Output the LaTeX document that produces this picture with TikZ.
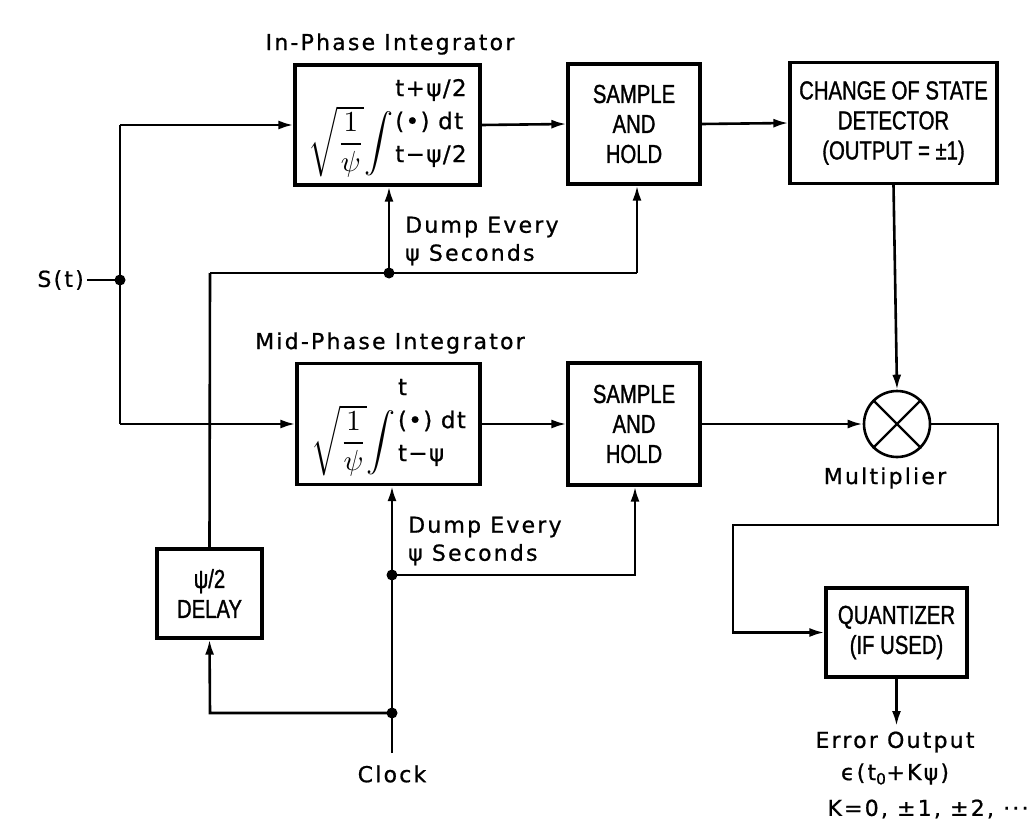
\documentclass[tikz,border=0pt]{standalone}
\usepackage{graphicx}
\usepackage{fontspec}
\newfontfamily\labf[LetterSpace=10,FakeBold=0.8]{DejaVu Sans}
\newfontfamily\formf[LetterSpace=6,FakeBold=0.8]{DejaVu Sans}
\newfontfamily\capf[FakeStretch=0.78,FakeBold=1.2]{Liberation Sans}
\usetikzlibrary{arrows.meta}
\tikzset{
  box/.style={draw, line width=3.2pt, inner sep=0pt, align=center},
  capt/.style={font=\capf\fontsize{26}{30}\selectfont},
  lab/.style={font=\labf\fontsize{22}{28}\selectfont, inner sep=0pt},
  wire/.style={line width=2.6pt},
  arr/.style={wire, -{Latex[length=15pt,width=9pt]}},
  dot/.style={fill=black}
}
\newcommand{\intform}[2]{\raisebox{-0.5\height}{\scalebox{2.9}{$\displaystyle\sqrt{\frac{1}{\psi}}\!\int$}}\hspace{2pt}{\formf\fontsize{23}{33}\selectfont\begin{tabular}{@{}l@{}}#1\\(•) dt\\#2\end{tabular}}}
\begin{document}
\begin{tikzpicture}[x=1pt,y=-1pt]
\useasboundingbox (0,0) rectangle (1036,840);
% blocks
\node[box,minimum width=185pt,minimum height=120pt] (ip) at (387.5,125) {\intform{t+ψ/2}{t−ψ/2}};
\node[box,capt,minimum width=132pt,minimum height=120pt] (sh1) at (634,124) {SAMPLE\\AND\\HOLD};
\node[box,capt,minimum width=207pt,minimum height=121pt] (cos) at (893.5,123) {CHANGE OF STATE\\DETECTOR\\(OUTPUT = ±1)};
\node[box,minimum width=183pt,minimum height=121pt] (mp) at (388.5,424) {\intform{t}{t−ψ}};
\node[box,capt,minimum width=132pt,minimum height=122pt] (sh2) at (634,424) {SAMPLE\\AND\\HOLD};
\node[draw,line width=2.6pt,circle,minimum size=66pt,inner sep=0pt] (mult) at (897,424) {};
\draw[line width=2.4pt] (mult.north west) -- (mult.south east) (mult.north east) -- (mult.south west);
\node[box,capt,minimum width=141pt,minimum height=89pt] (q) at (896.5,632.5) {QUANTIZER\\(IF USED)};
\node[box,capt,minimum width=105pt,minimum height=89pt] (dl) at (209.5,593.5) {ψ/2\\DELAY};
% labels
\node[lab] (lip) at (390,44) {In-Phase Integrator};
\node[lab] (lmp) at (390,343) {Mid-Phase Integrator};
\node[lab,anchor=east] (st) at (84,280) {S(t)};
\node[lab,align=left,anchor=west] (d1) at (405,241) {Dump Every\\ψ Seconds};
\node[lab,align=left,anchor=west] (d2) at (408,541) {Dump Every\\ψ Seconds};
\node[lab] (lmu) at (885,478) {Multiplier};
\node[lab] (clk) at (392,774) {Clock};
\node[lab] (eo) at (895,742) {Error Output};
\node[lab] (eps) at (895,774) {ϵ(t\textsubscript{0}+Kψ)};
\node[lab] (kk) at (928,809) {K=0, ±1, ±2, ···};
% coordinates
\coordinate (js) at (120,280);
\coordinate (ja) at (120,125);
\coordinate (jb) at (120,424);
\coordinate (d1a) at (210,273);
\coordinate (d1b) at (389,273);
\coordinate (d1c) at (637,273);
\coordinate (c0) at (392,753);
\coordinate (c1) at (392,713);
\coordinate (c2) at (392,575);
\coordinate (c3) at (635,575);
\coordinate (c4) at (210,713);
\coordinate (m1) at (998,424);
\coordinate (m2) at (998,525);
\coordinate (m3) at (733,525);
\coordinate (m4) at (733,632.5);
\coordinate (eout) at (896.5,726);
% wires
\draw[wire] (st.east) ++(3,0) -- (js);
\draw[wire] (ja) -- (jb);
\draw[arr] (ja) -- (ip.west);
\draw[arr] (jb) -- (mp.west);
\draw[arr] (ip.east) -- (sh1.west);
\draw[arr] (sh1.east) -- (cos.west);
\draw[arr] (cos.south) -- (mult.north);
\draw[arr] (sh2.east) -- (mult.west);
\draw[arr] (mp.east) -- (sh2.west);
\draw[arr] (mult.east) -- (m1) -- (m2) -- (m3) -- (m4) -- (q.west);
\draw[arr] (q.south) -- (eout);
\draw[wire] (d1a) -- (d1c);
\draw[arr] (d1b) -- (d1b |- ip.south);
\draw[arr] (d1c) -- (d1c |- sh1.south);
\draw[wire] (d1a) -- (dl.north);
\draw[arr] (c0) -- (c0 |- mp.south);
\draw[arr] (c2) -- (c3) -- (c3 |- sh2.south);
\draw[arr] (c1) -- (c4) -- (dl.south);
\foreach \p in {js,d1b,c1,c2} \fill[dot] (\p) circle (5.5pt);
\end{tikzpicture}
\end{document}
